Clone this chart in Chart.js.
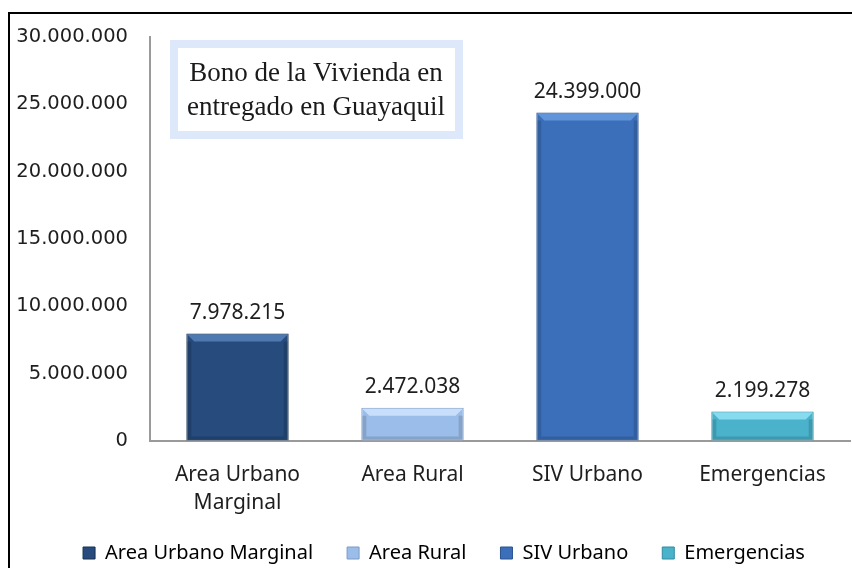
<!DOCTYPE html>
<html>
<head>
<meta charset="utf-8">
<script src="https://cdn.jsdelivr.net/npm/chart.js@4.4.0/dist/chart.umd.min.js"></script>
<style>
  html, body { margin: 0; padding: 0; background: #fff; overflow: hidden; }
  #wrap { position: relative; width: 852px; height: 568px; overflow: hidden; }
  #frame {
    position: absolute; left: 8px; top: 12px; width: 900px; height: 600px;
    border: 2px solid #000; pointer-events: none; box-sizing: border-box;
  }
</style>
</head>
<body>
<div id="wrap">
  <canvas id="bonoChart" width="852" height="581"></canvas>
  <div id="frame"></div>
</div>
<script>
const categories = ["Area Urbano Marginal", "Area Rural", "SIV Urbano", "Emergencias"];
const amounts = [7978215, 2472038, 24399000, 2199278];
const barColors = ["#264b7c", "#9bbde9", "#3b6fba", "#4ab3cb"];
const barEdges = ["#18304f", "#7a9bc6", "#2a5391", "#2e8aa0"];
const barHighlights = ["#4f7ab1", "#c8defa", "#6195da", "#86dcee"];
const titleLines = ["Bono de la Vivienda en", "entregado en Guayaquil"];
const yMax = 30000000;
const yStep = 5000000;

const sansFont = "'Noto Sans', sans-serif";

function fmt(n) {
  return String(Math.round(n)).replace(/\B(?=(\d{3})+(?!\d))/g, ".");
}

function wrapLabel(text, max) {
  const words = text.split(" ");
  const lines = [];
  let cur = "";
  words.forEach((w) => {
    if (cur && (cur + " " + w).length > max) {
      lines.push(cur);
      cur = w;
    } else {
      cur = cur ? cur + " " + w : w;
    }
  });
  if (cur) lines.push(cur);
  return lines;
}

// the original legend sits a bit right of centre and close under the labels
const legendShift = {
  id: "legendShift",
  afterLayout(chart) {
    const lg = chart.legend;
    if (lg) {
      lg.left += 19;
      lg.right += 19;
      lg.top -= 8;
      lg.bottom -= 8;
    }
  },
};

// bevel look on the bars (light top edge, darker sides)
const barBevel = {
  id: "barBevel",
  afterDatasetsDraw(chart) {
    const ctx = chart.ctx;
    const meta = chart.getDatasetMeta(0);
    ctx.save();
    meta.data.forEach((bar, i) => {
      const l = bar.x - bar.width / 2;
      const r = bar.x + bar.width / 2;
      const t = bar.y;
      const b = bar.base;
      const d = Math.min(8, (b - t) / 2);
      ctx.fillStyle = barHighlights[i];
      ctx.beginPath();
      ctx.moveTo(l + 1, t + 1);
      ctx.lineTo(r - 1, t + 1);
      ctx.lineTo(r - d, t + d);
      ctx.lineTo(l + d, t + d);
      ctx.closePath();
      ctx.fill();
      ctx.globalAlpha = 0.14;
      ctx.fillStyle = "#000";
      ctx.fillRect(l + 1, t + d, 4, b - t - d - 1);
      ctx.fillRect(r - 5, t + d, 4, b - t - d - 1);
      ctx.fillRect(l + 5, b - 4, r - l - 10, 3);
      ctx.globalAlpha = 1;
    });
    ctx.restore();
  },
};

// value labels above each bar
const valueLabels = {
  id: "valueLabels",
  afterDatasetsDraw(chart) {
    const ctx = chart.ctx;
    const meta = chart.getDatasetMeta(0);
    ctx.save();
    ctx.font = "21px " + sansFont;
    ctx.fillStyle = "#1e1e1e";
    ctx.textAlign = "center";
    ctx.textBaseline = "bottom";
    meta.data.forEach((bar, i) => {
      ctx.fillText(fmt(amounts[i]), bar.x, bar.y - 10);
    });
    ctx.restore();
  },
};

// boxed title in the upper-left of the plot
const titleBox = {
  id: "titleBox",
  afterDraw(chart) {
    const ctx = chart.ctx;
    ctx.save();
    ctx.strokeStyle = "#dde8fa";
    ctx.lineWidth = 8;
    ctx.fillStyle = "#ffffff";
    ctx.fillRect(174, 44, 285, 91);
    ctx.strokeRect(174, 44, 285, 91);
    ctx.font = "27px 'Liberation Serif', 'DejaVu Serif', serif";
    ctx.fillStyle = "#1a1a1a";
    ctx.textAlign = "center";
    ctx.textBaseline = "alphabetic";
    ctx.fillText(titleLines[0], 316, 81);
    ctx.fillText(titleLines[1], 316, 115);
    ctx.restore();
  },
};

new Chart(document.getElementById("bonoChart"), {
  type: "bar",
  data: {
    labels: categories,
    datasets: [
      {
        data: amounts,
        backgroundColor: barColors,
        borderColor: barEdges,
        borderWidth: 1,
        categoryPercentage: 1,
        barPercentage: 0.585,
      },
    ],
  },
  options: {
    responsive: false,
    animation: false,
    layout: { padding: { top: 37, right: 2, left: 0, bottom: 0 } },
    plugins: {
      tooltip: { enabled: false },
      legend: {
        position: "bottom",
        labels: {
          color: "#1e1e1e",
          font: { size: 20, family: sansFont },
          boxWidth: 12,
          boxHeight: 12,
          padding: 34,
          generateLabels: (chart) =>
            categories.map((c, i) => ({
              text: c,
              fillStyle: barColors[i],
              strokeStyle: barEdges[i],
              lineWidth: 1,
              index: i,
            })),
        },
      },
    },
    scales: {
      x: {
        grid: { color: "rgba(0,0,0,0)", drawTicks: false },
        border: { display: true, color: "#9a9a9a", width: 2 },
        ticks: {
          color: "#1e1e1e",
          padding: 20,
          maxRotation: 0,
          autoSkip: false,
          font: { size: 21, lineHeight: 1.33, family: sansFont },
          callback: function (v, i) {
            return wrapLabel(categories[i], 14);
          },
        },
        afterFit: (s) => { s.height = 76; },
      },
      y: {
        min: 0,
        max: yMax,
        grid: { color: "rgba(0,0,0,0)", drawTicks: false },
        border: { display: true, color: "#9a9a9a", width: 2 },
        ticks: {
          stepSize: yStep,
          color: "#1e1e1e",
          padding: 22,
          font: { size: 19.5, family: "'DejaVu Sans', sans-serif" },
          callback: (v) => fmt(v),
        },
        afterFit: (s) => { s.width = 150; },
      },
    },
  },
  plugins: [legendShift, barBevel, valueLabels, titleBox],
});
</script>
</body>
</html>
